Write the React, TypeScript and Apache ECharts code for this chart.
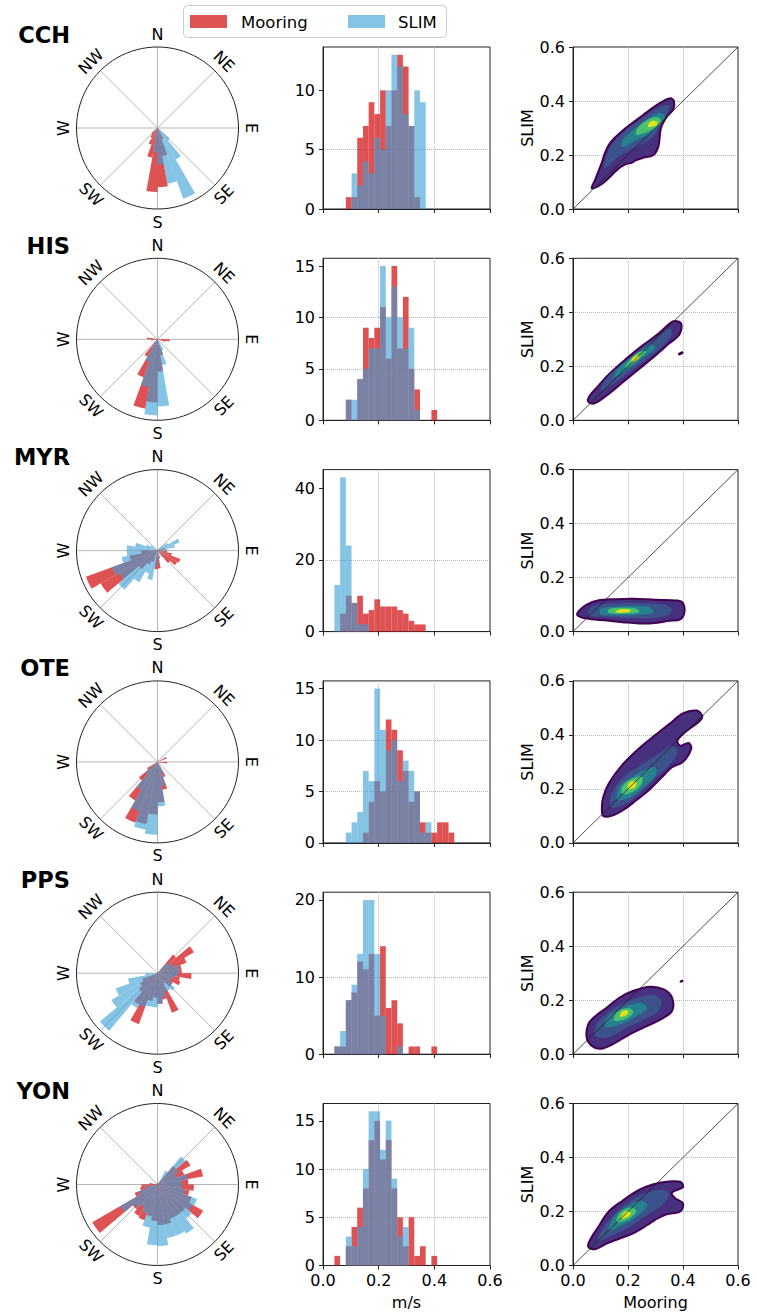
import React, { useEffect, useRef } from "react";
import * as echarts from "echarts";

// ---------------- DATA ----------------
const STATIONS = ["CCH", "HIS", "MYR", "OTE", "PPS", "YON"];
const COMPASS = ["N", "NE", "E", "SE", "S", "SW", "W", "NW"];
const SERIES_NAMES = ["Mooring", "SLIM"];
const SPEED_TICKS = [0, 0.2, 0.4, 0.6];
const HIST_BIN = 0.0205; // m/s, bin k spans [k*BIN,(k+1)*BIN]
const ROSE_BIN = 10; // degrees, sector k spans [10k, 10k+10] clockwise from N
const DIAG_LINE = [0, 0.6];

// Histogram counts per speed bin
const HIST_CCH_MOORING = [0,0,0,0,1,1,6,7,9,8,10,7,10,13,12,7,1,0,0,0,0,0,0];
const HIST_CCH_SLIM    = [0,0,0,0,0,3,2,4,3,6,5,10,13,12,8,7,10,9,0,0,0,0,0];
const HIST_HIS_MOORING = [0,0,0,0,2,0,4,9,8,9,11,6,15,7,12,5,3,0,0,1,0,0,0];
const HIST_HIS_SLIM    = [0,0,0,0,2,2,4,5,7,7,15,10,13,10,7,9,1,0,0,0,0,0,0];
const HIST_MYR_MOORING = [0,0,0,5,10,8,10,5,6,9,7,7,7,6,5,3,2,2,0,0,0,0,0];
const HIST_MYR_SLIM    = [0,0,13,43,24,8,2,2,0,0,0,0,0,0,0,0,0,0,0,0,0,0,0];
const HIST_OTE_MOORING = [0,0,0,0,0,0,0,1,4,6,5,12,11,9,7,4,5,2,1,1,2,2,1];
const HIST_OTE_SLIM    = [0,0,0,0,1,2,3,7,6,15,11,9,10,6,8,7,5,1,2,0,0,0,0];
const HIST_PPS_MOORING = [0,0,1,1,7,8,12,11,13,5,14,6,7,4,0,1,1,0,0,1,0,0,0];
const HIST_PPS_SLIM    = [0,0,1,3,7,9,13,20,20,13,5,0,0,1,0,0,0,0,0,0,0,0,0];
const HIST_YON_MOORING = [0,0,1,0,2,4,6,8,13,15,11,13,8,5,2,5,1,2,0,1,0,0,0];
const HIST_YON_SLIM    = [0,0,0,0,3,2,4,10,16,16,12,15,9,3,4,0,0,0,0,0,0,0,0];

const HIST_YTICKS_CCH = [0, 5, 10];
const HIST_YTICKS_HIS = [0, 5, 10, 15];
const HIST_YTICKS_MYR = [0, 20, 40];
const HIST_YTICKS_OTE = [0, 5, 10, 15];
const HIST_YTICKS_PPS = [0, 10, 20];
const HIST_YTICKS_YON = [0, 5, 10, 15];

// Direction roses: relative length per 10° sector (clockwise from N)
const ROSE_CCH_MOORING = [0,0,0,0,0,0,0,0,0,0, 0,0,0,0,0,.15,.35,.73,.79,.37, .22,.14,.1,0,0,0,0,0,0,0, 0,0,0,0,0,0];
const ROSE_CCH_SLIM    = [0,0,0,0,0,0,0,0,0,0, 0,0,0,.2,.45,.93,.7,.45,.3,.12, 0,0,0,0,0,0,0,0,0,0, 0,0,0,0,0,0];
const ROSE_HIS_MOORING = [0,0,0,0,0,0,0,0,0,.15, .1,0,0,0,0,0,.2,.4,.78,.87, .5,.25,0,0,0,0,.08,.13,0,0, 0,0,0,0,0,0];
const ROSE_HIS_SLIM    = [0,0,0,0,0,0,0,0,0,0, 0,0,0,0,0,.15,.32,.83,.94,.6, .3,.1,0,0,0,0,0,0,0,0, 0,0,0,0,0,0];
const ROSE_MYR_MOORING = [0,0,0,0,0,0,0,.1,0,.12, .18,.3,.28,.2,0,0,.1,.22,.23,0, .15,.2,.3,.81,.94,.35,.2,0,0,0, 0,0,0,0,0,0];
const ROSE_MYR_SLIM    = [0,0,0,0,.08,.15,.29,.22,.12,0, .1,0,0,0,.1,0,0,.12,.2,.37, .3,.45,.63,.55,.6,.45,.38,.38,.28,.15, .1,0,0,0,0,0];
const ROSE_OTE_MOORING = [0,0,0,0,0,0,.12,0,0,.12, 0,0,0,0,0,.2,.35,.5,.65,.78, .8,.55,.3,.15,0,0,0,0,0,0, 0,0,0,0,0,0];
const ROSE_OTE_SLIM    = [0,0,0,0,0,0,0,0,0,0, 0,0,0,0,0,.15,.3,.55,.9,.85, .65,.4,.2,0,0,0,0,0,0,0, 0,0,0,0,0,0];
const ROSE_PPS_MOORING = [0,0,0,0,.3,.52,.38,.3,.3,.42, .28,.3,.22,.22,.15,.52,.33,.38,.3,.35, .67,.45,.3,.25,.2,0,0,0,0,0, 0,0,0,0,0,0];
const ROSE_PPS_SLIM    = [0,0,0,0,.15,.2,.22,.28,.27,.25, .2,.18,.2,.28,.25,.25,.3,.38,.42,.42, .45,.5,.93,.66,.55,.37,.15,0,0,0, 0,0,0,0,0,0];
const ROSE_YON_MOORING = [0,0,0,0,.3,.47,.35,.57,.38,.45, .4,.45,.65,.45,.45,.45,.5,.5,.45,.4, .47,.45,.4,.93,.3,.22,.2,.1,0,0, 0,0,0,0,0,0];
const ROSE_YON_SLIM    = [0,0,0,.2,.45,.3,.25,.38,.3,.3, .35,.52,.5,.55,.7,.67,.67,.76,.75,.54, .38,.32,.38,.53,.25,.15,0,0,0,0, 0,0,0,0,0,0];

// Joint density (SLIM vs Mooring): nested filled contour levels, [mooring, slim] vertices
const KDE_CCH = [
  { lvl: 0, pts: [[0.068,0.077],[0.098,0.088],[0.13,0.115],[0.159,0.144],[0.19,0.165],[0.215,0.172],[0.228,0.18],[0.255,0.19],[0.29,0.198],[0.31,0.23],[0.32,0.3],[0.34,0.34],[0.365,0.37],[0.367,0.4],[0.353,0.41],[0.304,0.385],[0.255,0.348],[0.18,0.29],[0.135,0.245],[0.116,0.207],[0.104,0.17],[0.08,0.107]] },
  { lvl: 1, pts: [[0.115,0.15],[0.16,0.19],[0.21,0.22],[0.26,0.245],[0.295,0.27],[0.315,0.31],[0.34,0.35],[0.35,0.385],[0.31,0.375],[0.25,0.335],[0.19,0.29],[0.14,0.235],[0.12,0.19]] },
  { lvl: 2, pts: [[0.18,0.23],[0.23,0.255],[0.28,0.28],[0.315,0.31],[0.335,0.345],[0.31,0.355],[0.26,0.325],[0.21,0.285],[0.18,0.255]] },
  { lvl: 3, pts: [[0.23,0.275],[0.28,0.29],[0.32,0.32],[0.31,0.34],[0.27,0.33],[0.235,0.3]] },
  { lvl: 4, pts: [[0.272,0.305],[0.3,0.308],[0.308,0.322],[0.285,0.326]] },
];
const KDE_HIS = [
  { lvl: 0, pts: [[0.385,0.24],[0.402,0.248],[0.398,0.256],[0.382,0.248]] },
  { lvl: 0, pts: [[0.055,0.07],[0.075,0.062],[0.12,0.09],[0.18,0.14],[0.24,0.19],[0.3,0.24],[0.35,0.285],[0.385,0.315],[0.395,0.35],[0.385,0.365],[0.36,0.365],[0.31,0.32],[0.25,0.275],[0.19,0.225],[0.13,0.17],[0.09,0.125],[0.06,0.09]] },
  { lvl: 1, pts: [[0.1,0.11],[0.16,0.145],[0.22,0.19],[0.28,0.235],[0.33,0.28],[0.36,0.32],[0.35,0.34],[0.3,0.305],[0.24,0.26],[0.18,0.21],[0.12,0.155]] },
  { lvl: 2, pts: [[0.15,0.16],[0.2,0.19],[0.26,0.235],[0.3,0.27],[0.28,0.28],[0.23,0.245],[0.17,0.2]] },
  { lvl: 3, pts: [[0.19,0.195],[0.24,0.23],[0.265,0.255],[0.235,0.25],[0.2,0.215]] },
  { lvl: 4, pts: [[0.215,0.215],[0.24,0.232],[0.235,0.242],[0.215,0.228]] },
];
const KDE_MYR = [
  { lvl: 0, pts: [[0.015,0.062],[0.04,0.05],[0.08,0.045],[0.13,0.04],[0.18,0.035],[0.24,0.03],[0.3,0.032],[0.35,0.04],[0.39,0.045],[0.405,0.07],[0.4,0.105],[0.38,0.115],[0.3,0.118],[0.22,0.122],[0.15,0.12],[0.09,0.115],[0.05,0.1],[0.025,0.08]] },
  { lvl: 1, pts: [[0.06,0.06],[0.12,0.055],[0.2,0.05],[0.28,0.05],[0.34,0.06],[0.36,0.08],[0.33,0.1],[0.25,0.105],[0.16,0.105],[0.09,0.1],[0.06,0.085]] },
  { lvl: 2, pts: [[0.1,0.065],[0.17,0.06],[0.24,0.062],[0.29,0.07],[0.28,0.09],[0.22,0.095],[0.15,0.092],[0.1,0.085]] },
  { lvl: 3, pts: [[0.13,0.07],[0.19,0.067],[0.24,0.072],[0.23,0.085],[0.18,0.088],[0.13,0.083]] },
  { lvl: 4, pts: [[0.155,0.072],[0.2,0.071],[0.21,0.08],[0.17,0.083]] },
];
const KDE_OTE = [
  { lvl: 0, pts: [[0.11,0.1],[0.14,0.1],[0.18,0.12],[0.22,0.15],[0.27,0.19],[0.32,0.24],[0.36,0.28],[0.4,0.3],[0.43,0.35],[0.42,0.37],[0.39,0.36],[0.38,0.38],[0.42,0.42],[0.46,0.45],[0.47,0.47],[0.45,0.49],[0.4,0.48],[0.35,0.44],[0.3,0.4],[0.24,0.35],[0.18,0.29],[0.13,0.22],[0.11,0.17],[0.105,0.13]] },
  { lvl: 1, pts: [[0.14,0.13],[0.2,0.15],[0.26,0.2],[0.31,0.25],[0.36,0.3],[0.38,0.34],[0.36,0.36],[0.31,0.33],[0.25,0.29],[0.19,0.25],[0.15,0.2],[0.135,0.16]] },
  { lvl: 2, pts: [[0.16,0.16],[0.21,0.17],[0.26,0.21],[0.3,0.25],[0.3,0.28],[0.26,0.27],[0.21,0.24],[0.17,0.21]] },
  { lvl: 3, pts: [[0.18,0.18],[0.22,0.19],[0.25,0.22],[0.25,0.245],[0.21,0.235],[0.18,0.21]] },
  { lvl: 4, pts: [[0.2,0.2],[0.225,0.205],[0.23,0.225],[0.205,0.225]] },
];
const KDE_PPS = [
  { lvl: 0, pts: [[0.39,0.265],[0.402,0.27],[0.398,0.276],[0.388,0.271]] },
  { lvl: 0, pts: [[0.05,0.06],[0.07,0.03],[0.1,0.02],[0.15,0.04],[0.2,0.07],[0.26,0.1],[0.32,0.13],[0.36,0.16],[0.36,0.21],[0.33,0.24],[0.28,0.25],[0.22,0.235],[0.17,0.21],[0.12,0.17],[0.08,0.14],[0.055,0.11]] },
  { lvl: 1, pts: [[0.08,0.07],[0.12,0.06],[0.18,0.09],[0.25,0.125],[0.31,0.16],[0.32,0.2],[0.28,0.22],[0.21,0.2],[0.15,0.17],[0.1,0.13],[0.08,0.1]] },
  { lvl: 2, pts: [[0.12,0.1],[0.17,0.11],[0.23,0.14],[0.27,0.17],[0.25,0.19],[0.2,0.18],[0.15,0.155],[0.12,0.13]] },
  { lvl: 3, pts: [[0.15,0.125],[0.19,0.13],[0.22,0.155],[0.2,0.17],[0.16,0.155]] },
  { lvl: 4, pts: [[0.17,0.14],[0.195,0.145],[0.2,0.16],[0.18,0.16]] },
];
const KDE_YON = [
  { lvl: 0, pts: [[0.055,0.07],[0.08,0.06],[0.12,0.08],[0.17,0.1],[0.22,0.12],[0.27,0.15],[0.3,0.17],[0.34,0.19],[0.39,0.2],[0.4,0.23],[0.37,0.25],[0.36,0.27],[0.4,0.29],[0.39,0.31],[0.34,0.31],[0.29,0.3],[0.24,0.28],[0.18,0.24],[0.13,0.2],[0.09,0.14],[0.065,0.1]] },
  { lvl: 1, pts: [[0.09,0.09],[0.14,0.11],[0.2,0.14],[0.26,0.18],[0.32,0.22],[0.35,0.26],[0.33,0.28],[0.27,0.27],[0.21,0.24],[0.15,0.19],[0.11,0.14]] },
  { lvl: 2, pts: [[0.13,0.13],[0.18,0.15],[0.23,0.18],[0.27,0.22],[0.25,0.24],[0.2,0.22],[0.15,0.18]] },
  { lvl: 3, pts: [[0.16,0.16],[0.2,0.17],[0.23,0.2],[0.21,0.215],[0.17,0.195]] },
  { lvl: 4, pts: [[0.175,0.175],[0.2,0.18],[0.21,0.195],[0.19,0.2]] },
];

const HISTS = [
  [HIST_CCH_MOORING, HIST_CCH_SLIM, HIST_YTICKS_CCH],
  [HIST_HIS_MOORING, HIST_HIS_SLIM, HIST_YTICKS_HIS],
  [HIST_MYR_MOORING, HIST_MYR_SLIM, HIST_YTICKS_MYR],
  [HIST_OTE_MOORING, HIST_OTE_SLIM, HIST_YTICKS_OTE],
  [HIST_PPS_MOORING, HIST_PPS_SLIM, HIST_YTICKS_PPS],
  [HIST_YON_MOORING, HIST_YON_SLIM, HIST_YTICKS_YON],
];
const ROSES = [
  [ROSE_CCH_MOORING, ROSE_CCH_SLIM],
  [ROSE_HIS_MOORING, ROSE_HIS_SLIM],
  [ROSE_MYR_MOORING, ROSE_MYR_SLIM],
  [ROSE_OTE_MOORING, ROSE_OTE_SLIM],
  [ROSE_PPS_MOORING, ROSE_PPS_SLIM],
  [ROSE_YON_MOORING, ROSE_YON_SLIM],
];
const KDES = [KDE_CCH, KDE_HIS, KDE_MYR, KDE_OTE, KDE_PPS, KDE_YON];

// ---------------- STYLE / LAYOUT ----------------
const FONT = "DejaVu Sans";
const FS = 16;
const TEXT = "#000";
const SPINE = "#222";
const GRIDC = "#b5b5b5";
const RED = "#d62728";
const RED_OP = 0.8;
const BLUE = "#3ca0d7";
const BLUE_OP = 0.62;
const LEVEL_COLORS = ["#47307d", "#3b528b", "#26818e", "#4ac16d", "#dde318"];
const RIM_COLOR = "#440154";
const COMPASS_ROT = [0, -45, -90, 45, 0, -45, 90, 45];

const ROW_TOP = 47;
const ROW_STEP = 211.3;
const BOX_H = 162;
const HIST_LEFT = 323;
const HIST_W = 167;
const DENS_LEFT = 573;
const DENS_W = 165;
const ROSE_CX = 157.5;
const ROSE_CY0 = 128;
const ROSE_R = 81;
const LABEL_R = 94;

function histData(counts: number[]) {
  const out: number[][] = [];
  counts.forEach((c, k) => {
    if (c > 0) out.push([k * HIST_BIN, (k + 1) * HIST_BIN, c]);
  });
  return out;
}
function roseData(vals: number[]) {
  const out: number[][] = [];
  vals.forEach((v, k) => {
    if (v > 0) out.push([v, k * ROSE_BIN + ROSE_BIN / 2]);
  });
  return out;
}

function buildOption() {
  const grid: any[] = [];
  const xAxis: any[] = [];
  const yAxis: any[] = [];
  const series: any[] = [];
  const polar: any[] = [];
  const angleAxis: any[] = [];
  const radiusAxis: any[] = [];
  const graphic: any[] = [];

  const txt = { color: TEXT, fontSize: FS, fontFamily: FONT };
  const split = {
    show: true,
    showMinLine: false,
    showMaxLine: false,
    lineStyle: { color: GRIDC, type: "dotted", width: 1 },
  };

  STATIONS.forEach((name, i) => {
    const top = ROW_TOP + i * ROW_STEP;
    const isLast = i === STATIONS.length - 1;
    const cy = ROSE_CY0 + i * ROW_STEP;

    // ---- rose ----
    polar.push({ center: [ROSE_CX, cy], radius: ROSE_R });
    angleAxis.push({
      polarIndex: i,
      type: "value",
      min: 0,
      max: 360,
      interval: 45,
      startAngle: 90,
      clockwise: true,
      axisLine: { show: true, lineStyle: { color: SPINE, width: 1 } },
      axisTick: { show: false },
      axisLabel: { show: false },
      splitLine: { show: true, lineStyle: { color: GRIDC, width: 1 } },
    });
    radiusAxis.push({
      polarIndex: i,
      type: "value",
      min: 0,
      max: 1,
      axisLine: { show: false },
      axisTick: { show: false },
      axisLabel: { show: false },
      splitLine: { show: false },
    });
    const [roseM, roseS] = ROSES[i];
    [
      [roseM, RED, RED_OP, SERIES_NAMES[0]],
      [roseS, BLUE, BLUE_OP, SERIES_NAMES[1]],
    ].forEach(([vals, color, op, sname]: any) => {
      series.push({
        type: "custom",
        name: sname,
        coordinateSystem: "polar",
        polarIndex: i,
        silent: true,
        encode: { radius: 0, angle: 1 },
        data: roseData(vals),
        renderItem: (params: any, api: any) => {
          const v = api.value(0);
          const a = api.value(1);
          const cs = params.coordSys;
          const cx = cs.cx;
          const ccy = cs.cy;
          const p0 = api.coord([v, a - ROSE_BIN / 2]);
          const p1 = api.coord([v, a + ROSE_BIN / 2]);
          const r = Math.hypot(p0[0] - cx, p0[1] - ccy);
          const s = Math.atan2(p0[1] - ccy, p0[0] - cx);
          let e = Math.atan2(p1[1] - ccy, p1[0] - cx);
          if (e < s) e += Math.PI * 2;
          return {
            type: "sector",
            shape: { cx, cy: ccy, r0: 0, r, startAngle: s, endAngle: e, clockwise: true },
            style: { fill: color, opacity: op },
          };
        },
      });
    });

    // station label
    graphic.push({
      type: "text",
      x: 70,
      y: cy - 93.5,
      style: {
        text: name,
        fontSize: 22.5,
        fontWeight: "bold",
        fontFamily: FONT,
        fill: TEXT,
        align: "right",
        verticalAlign: "middle",
      },
    });
    COMPASS.forEach((lab, j) => {
      const b = (j * 45 * Math.PI) / 180;
      graphic.push({
        type: "text",
        x: ROSE_CX + LABEL_R * Math.sin(b),
        y: cy - LABEL_R * Math.cos(b),
        rotation: (COMPASS_ROT[j] * Math.PI) / 180,
        style: {
          text: lab,
          fontSize: FS,
          fontFamily: FONT,
          fill: TEXT,
          align: "center",
          verticalAlign: "middle",
        },
      });
    });

    // ---- histogram ----
    const [hM, hS, yt]: any = HISTS[i];
    const ymax = Math.max(...hM, ...hS) * 1.05;
    const hg = grid.length;
    grid.push({
      left: HIST_LEFT,
      top,
      width: HIST_W,
      height: BOX_H,
      show: true,
      borderColor: SPINE,
      borderWidth: 1,
    });
    xAxis.push({
      gridIndex: hg,
      type: "value",
      min: SPEED_TICKS[0],
      max: SPEED_TICKS[SPEED_TICKS.length - 1],
      interval: SPEED_TICKS[1] - SPEED_TICKS[0],
      axisLine: { show: true, onZero: false, lineStyle: { color: SPINE } },
      axisTick: { show: true, length: 4, lineStyle: { color: SPINE } },
      axisLabel: { show: isLast, ...txt, margin: 7, formatter: (v: number) => v.toFixed(1) },
      splitLine: split,
      name: isLast ? "m/s" : "",
      nameLocation: "middle",
      nameGap: 29,
      nameTextStyle: txt,
    });
    yAxis.push({
      gridIndex: hg,
      type: "value",
      min: 0,
      max: ymax,
      interval: yt[1] - yt[0],
      axisLine: { show: true, onZero: false, lineStyle: { color: SPINE } },
      axisTick: { show: true, length: 4, lineStyle: { color: SPINE }, customValues: yt },
      axisLabel: {
        show: true,
        ...txt,
        margin: 8,
        customValues: yt,
        formatter: (v: number) => (yt.indexOf(v) >= 0 ? String(v) : ""),
      },
      splitLine: split,
    });
    [
      [hM, RED, RED_OP, SERIES_NAMES[0]],
      [hS, BLUE, BLUE_OP, SERIES_NAMES[1]],
    ].forEach(([counts, color, op, sname]: any) => {
      series.push({
        type: "custom",
        name: sname,
        xAxisIndex: hg,
        yAxisIndex: hg,
        silent: true,
        encode: { x: [0, 1], y: 2 },
        data: histData(counts),
        renderItem: (_p: any, api: any) => {
          const p0 = api.coord([api.value(0), api.value(2)]);
          const p1 = api.coord([api.value(1), 0]);
          return {
            type: "rect",
            shape: { x: p0[0], y: p0[1], width: p1[0] - p0[0], height: p1[1] - p0[1] },
            style: { fill: color, opacity: op },
          };
        },
      });
    });

    // ---- density ----
    const dg = grid.length;
    grid.push({
      left: DENS_LEFT,
      top,
      width: DENS_W,
      height: BOX_H,
      show: true,
      borderColor: SPINE,
      borderWidth: 1,
    });
    const fmt = (v: number) => v.toFixed(1);
    xAxis.push({
      gridIndex: dg,
      type: "value",
      min: SPEED_TICKS[0],
      max: SPEED_TICKS[SPEED_TICKS.length - 1],
      interval: SPEED_TICKS[1] - SPEED_TICKS[0],
      axisLine: { show: true, onZero: false, lineStyle: { color: SPINE } },
      axisTick: { show: true, length: 4, lineStyle: { color: SPINE } },
      axisLabel: { show: isLast, ...txt, margin: 7, formatter: fmt },
      splitLine: split,
      name: isLast ? SERIES_NAMES[0] : "",
      nameLocation: "middle",
      nameGap: 29,
      nameTextStyle: txt,
    });
    yAxis.push({
      gridIndex: dg,
      type: "value",
      min: SPEED_TICKS[0],
      max: SPEED_TICKS[SPEED_TICKS.length - 1],
      interval: SPEED_TICKS[1] - SPEED_TICKS[0],
      axisLine: { show: true, onZero: false, lineStyle: { color: SPINE } },
      axisTick: { show: true, length: 4, lineStyle: { color: SPINE } },
      axisLabel: { show: true, ...txt, margin: 8, formatter: fmt },
      splitLine: split,
      name: SERIES_NAMES[1],
      nameLocation: "middle",
      nameGap: 34,
      nameRotate: 90,
      nameTextStyle: txt,
    });
    const kde = KDES[i];
    series.push({
      type: "custom",
      name: "density-" + name,
      xAxisIndex: dg,
      yAxisIndex: dg,
      silent: true,
      encode: { x: 0, y: 1 },
      data: kde.map((_p, j) => [0.3, 0.3, j]),
      renderItem: (_p: any, api: any) => {
        const poly = kde[api.value(2)];
        const pts = poly.pts.map((p: number[]) => api.coord(p));
        const rim = poly.lvl === 0 && poly.pts.length > 6;
        return {
          type: "polygon",
          shape: { points: pts, smooth: 0.35 },
          style: {
            fill: poly.lvl === 0 && !rim ? RIM_COLOR : LEVEL_COLORS[poly.lvl],
            stroke: rim ? RIM_COLOR : null,
            lineWidth: rim ? 2 : 0,
          },
        };
      },
    });
    series.push({
      type: "line",
      name: "diag-" + name,
      xAxisIndex: dg,
      yAxisIndex: dg,
      silent: true,
      symbol: "none",
      z: 5,
      lineStyle: { color: SPINE, width: 0.8 },
      data: [
        [DIAG_LINE[0], DIAG_LINE[0]],
        [DIAG_LINE[1], DIAG_LINE[1]],
      ],
    });
  });

  // ---- legend (drawn) ----
  graphic.push(
    {
      type: "rect",
      shape: { x: 183.5, y: 5.5, width: 263, height: 32, r: 4 },
      style: { fill: "#fff", stroke: "#cccccc", lineWidth: 1 },
      z: 10,
    },
    {
      type: "rect",
      shape: { x: 190, y: 15, width: 37, height: 13 },
      style: { fill: RED, opacity: RED_OP },
      z: 11,
    },
    {
      type: "text",
      x: 241,
      y: 22,
      style: { text: SERIES_NAMES[0], fontSize: 16.5, fontFamily: FONT, fill: TEXT, verticalAlign: "middle" },
      z: 11,
    },
    {
      type: "rect",
      shape: { x: 348, y: 15, width: 37, height: 13 },
      style: { fill: BLUE, opacity: BLUE_OP },
      z: 11,
    },
    {
      type: "text",
      x: 398,
      y: 22,
      style: { text: SERIES_NAMES[1], fontSize: 16.5, fontFamily: FONT, fill: TEXT, verticalAlign: "middle" },
      z: 11,
    }
  );

  return {
    animation: false,
    backgroundColor: "#fff",
    textStyle: { fontFamily: FONT },
    grid,
    xAxis,
    yAxis,
    polar,
    angleAxis,
    radiusAxis,
    series,
    graphic,
  };
}

export default function App() {
  const ref = useRef<HTMLDivElement>(null);
  useEffect(() => {
    if (!ref.current) return;
    const chart = echarts.init(ref.current, undefined, { renderer: "svg" });
    chart.setOption(buildOption() as any);
    return () => chart.dispose();
  }, []);
  return (
    <div
      ref={ref}
      style={{ position: "absolute", left: 0, top: 0, width: 757, height: 1313, background: "#fff" }}
    />
  );
}
